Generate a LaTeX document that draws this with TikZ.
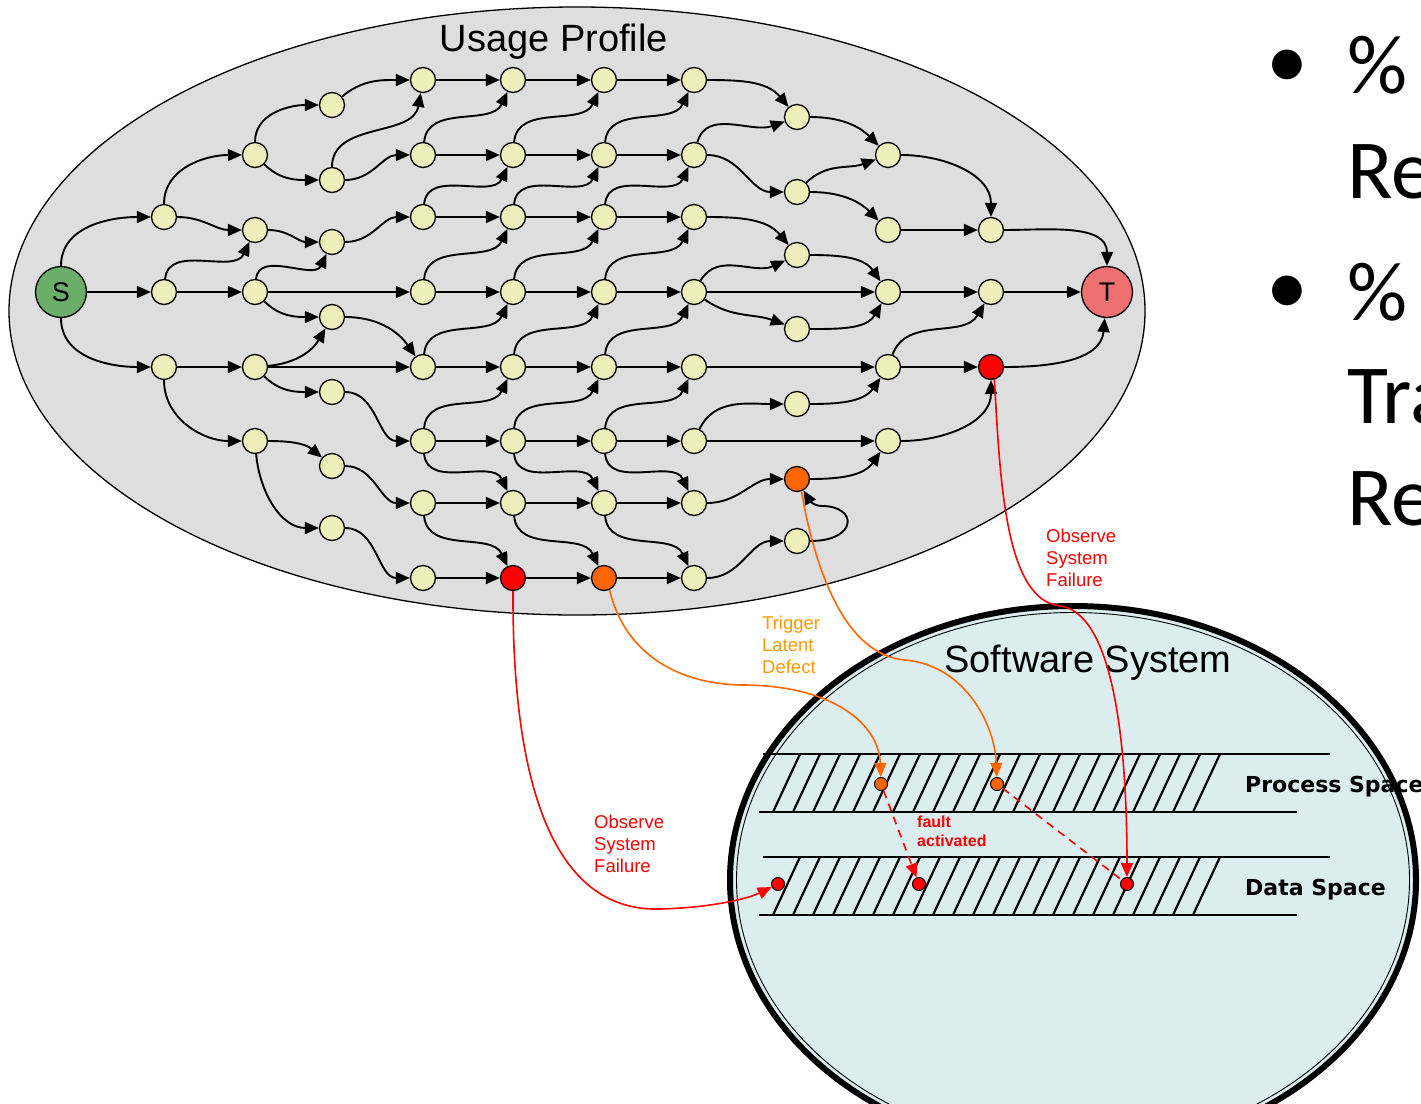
\documentclass[tikz,border=0pt]{standalone}
\usepackage{fontspec}
\setmainfont{Liberation Sans}
\newfontfamily\slidefont{Carlito}
\newfontfamily\heavyfont{DejaVu Sans}
\usetikzlibrary{arrows.meta}

\definecolor{profilegray}{RGB}{222,222,222}
\definecolor{stateyellow}{RGB}{238,238,187}
\definecolor{startgreen}{RGB}{106,174,106}
\definecolor{endsalmon}{RGB}{238,112,112}
\definecolor{failred}{RGB}{255,0,0}
\definecolor{defectorange}{RGB}{255,102,0}
\definecolor{labelorange}{RGB}{255,153,0}
\definecolor{systemcyan}{RGB}{219,237,239}

\tikzset{
  st/.style={circle, draw, line width=1.3pt, fill=stateyellow, minimum size=25pt, inner sep=0pt},
  term/.style={circle, draw, line width=1.3pt, minimum size=51pt, inner sep=0pt, font=\fontsize{27}{30}\selectfont},
  spot/.style={circle, draw, line width=1pt, minimum size=13pt, inner sep=0pt},
  tr/.style={line width=1.9pt, -{Triangle[length=14pt,width=12pt]}},
  rise/.style={out=85, in=-115},
  fall/.style={out=-85, in=115},
  wave/.style={out=0, in=180},
  link/.style={line width=1.6pt, -{Triangle[length=14pt,width=12pt]}},
  band/.style={line width=2.6pt},
  hatch/.style={line width=2.2pt},
  lbl/.style={anchor=base west, inner sep=0pt, align=left, font=\fontsize{18.5}{22}\selectfont},
  slide/.style={anchor=base west, inner sep=0pt, font=\slidefont\fontsize{84}{100}\selectfont},
  space/.style={anchor=base west, inner sep=0pt, font=\heavyfont\bfseries\fontsize{22}{24}\selectfont},
}

\begin{document}
\begin{tikzpicture}[x=1pt,y=-1pt]
\useasboundingbox (0,0) rectangle (1421,1103);
\fill[white] (0,0) rectangle (1421,1103);

% ---------- usage profile container ----------
\draw[fill=profilegray, line width=1.3pt] (577,311) ellipse [x radius=568, y radius=304];
\node[anchor=base, inner sep=0pt, font=\fontsize{38}{40}\selectfont] (upt) at (554,51) {Usage Profile};

% ---------- software system container ----------
\draw[fill=systemcyan, line width=6pt] (1073,880) ellipse [x radius=343, y radius=274];
\draw[line width=0.9pt] (1073,880) ellipse [x radius=336.5, y radius=267.5];
\node[anchor=base, inner sep=0pt, font=\fontsize{38}{40}\selectfont] (sst) at (1088,672) {Software System};

% hatched process and data bands
\foreach \t/\b in {754/812, 857/915}{
  \draw[band] (763,\t) -- (1330,\t);
  \draw[band] (759,\b) -- (1297,\b);
  \foreach \k in {0,...,21}
    \draw[hatch] ({773+20*\k},\b) -- ({800+20*\k},\t);
}
\node[space] (ps) at (1245,792) {Process Space};
\node[space] (ds) at (1245,895) {Data Space};

% ---------- states ----------
\node[term, fill=startgreen] (S) at (61,292) {S};
\node[term, fill=endsalmon] (T) at (1107,292) {T};
\foreach \y in {217,292,367} \node[st] (n1-\y) at (164,\y) {};
\foreach \y in {155,230,292,367,441} \node[st] (n2-\y) at (255,\y) {};
\foreach \y in {105,180,242,317,392,466,528} \node[st] (n3-\y) at (332,\y) {};
\foreach \y in {80,155,217,292,367,441,503,578} \node[st] (n4-\y) at (423,\y) {};
\foreach \y in {80,155,217,292,367,441,503} \node[st] (n5-\y) at (513,\y) {};
\node[st, fill=failred] (n5-578) at (513,578) {};
\foreach \y in {80,155,217,292,367,441,503} \node[st] (n6-\y) at (604,\y) {};
\node[st, fill=defectorange] (n6-578) at (604,578) {};
\foreach \y in {80,155,217,292,367,441,503,578} \node[st] (n7-\y) at (694,\y) {};
\foreach \y in {117,192,255,329,404,541} \node[st] (n8-\y) at (797,\y) {};
\node[st, fill=defectorange] (n8-479) at (797,479) {};
\foreach \y in {155,230,292,367,441} \node[st] (n9-\y) at (888,\y) {};
\foreach \y in {230,292} \node[st] (n10-\y) at (991,\y) {};
\node[st, fill=failred] (n10-367) at (991,367) {};

% ---------- transitions ----------
\draw[tr] (S) to[out=90,in=180] (n1-217);
\draw[tr] (S) -- (n1-292);
\draw[tr] (S) to[out=-90,in=180] (n1-367);

\draw[tr] (n1-217) to[out=90,in=180] (n2-155);
\draw[tr] (n1-217) to[wave] (n2-230);
\draw[tr] (n1-292) to[rise] (n2-230);
\draw[tr] (n1-292) -- (n2-292);
\draw[tr] (n1-367) -- (n2-367);
\draw[tr] (n1-367) to[out=-90,in=180] (n2-441);

\draw[tr] (n2-155) to[out=90,in=180] (n3-105);
\draw[tr] (n2-155) to[out=-45,in=180] (n3-180);
\draw[tr] (n2-230) to[wave] (n3-242);
\draw[tr] (n2-292) to[rise] (n3-242);
\draw[tr] (n2-292) -- (n4-292);
\draw[tr] (n2-292) to[out=-45,in=180] (n3-317);
\draw[tr] (n2-367) to[out=5,in=-120] (n3-317);
\draw[tr] (n2-367) -- (n4-367);
\draw[tr] (n2-367) to[out=-45,in=180] (n3-392);
\draw[tr] (n2-441) to[out=0,in=140] (n3-466);
\draw[tr] (n2-441) to[out=-85,in=180] (n3-528);

\draw[tr] (n3-105) to[out=40,in=180] (n4-80);
\draw[tr] (n3-180) to[out=90,in=-100] (n4-80);
\draw[tr] (n3-180) to[wave] (n4-155);
\draw[tr] (n3-242) to[wave] (n4-217);
\draw[tr] (n3-317) to[out=0,in=125] (n4-367);
\draw[tr] (n3-392) to[wave] (n4-441);
\draw[tr] (n3-466) to[wave] (n4-503);
\draw[tr] (n3-528) to[wave] (n4-578);

\foreach \a/\b in {4/5,5/6,6/7}{
  \foreach \y in {80,155,217,292,367,441,503,578}
    \draw[tr] (n\a-\y) -- (n\b-\y);
  \foreach \y/\z in {155/80,217/155,292/217,367/292,441/367}
    \draw[tr] (n\a-\y) to[rise] (n\b-\z);
  \foreach \y/\z in {441/503,503/578}
    \draw[tr] (n\a-\y) to[fall] (n\b-\z);
}

\draw[tr] (n7-80) to[out=0,in=130] (n8-117);
\draw[tr] (n7-155) to[out=75,in=-160] (n8-117);
\draw[tr] (n7-155) to[wave] (n8-192);
\draw[tr] (n7-217) to[out=0,in=130] (n8-255);
\draw[tr] (n7-292) to[out=60,in=-155] (n8-255);
\draw[tr] (n7-292) -- (n9-292);
\draw[tr] (n7-292) to[out=-35,in=160] (n8-329);
\draw[tr] (n7-367) -- (n9-367);
\draw[tr] (n7-441) to[out=65,in=180] (n8-404);
\draw[tr] (n7-441) -- (n9-441);
\draw[tr] (n7-503) to[wave] (n8-479);
\draw[tr] (n7-578) to[wave] (n8-541);
\draw[tr] (n8-541.east) .. controls (858,541) and (858,506) .. (822,506) to[out=180,in=-60] (n8-479);

\draw[tr] (n8-117) to[out=0,in=135] (n9-155);
\draw[tr] (n8-192) to[out=45,in=-160] (n9-155);
\draw[tr] (n8-192) to[out=0,in=135] (n9-230);
\draw[tr] (n8-255) to[out=0,in=125] (n9-292);
\draw[tr] (n8-329) to[out=0,in=-120] (n9-292);
\draw[tr] (n8-404) to[out=0,in=-125] (n9-367);
\draw[tr] (n8-479) to[out=0,in=-125] (n9-441);

\draw[tr] (n9-155) to[out=0,in=90] (n10-230);
\draw[tr] (n9-230) -- (n10-230);
\draw[tr] (n9-292) -- (n10-292);
\draw[tr] (n9-367) to[out=70,in=-120] (n10-292);
\draw[tr] (n9-367) -- (n10-367);
\draw[tr] (n9-441) to[out=0,in=-90] (n10-367);

\draw[tr] (n10-230) to[out=0,in=90] (T);
\draw[tr] (n10-292) -- (T);
\draw[tr] (n10-367) to[out=0,in=-95] (T);

% ---------- fault spots in the software system ----------
\node[spot, fill=defectorange] (dp1) at (881,784) {};
\node[spot, fill=defectorange] (dp2) at (997,784) {};
\node[spot, fill=failred] (dd1) at (778,884) {};
\node[spot, fill=failred] (dd2) at (919,884) {};
\node[spot, fill=failred] (dd3) at (1127,884) {};

% ---------- labels (placed by the baseline of their last line) ----------
\node[lbl, text=labelorange] (trig) at (762,673) {Trigger\\Latent\\Defect};
\node[lbl, text=failred] (obs1) at (594,872) {Observe\\System\\Failure};
\node[lbl, text=failred] (obs2) at (1046,586) {Observe\\System\\Failure};
\node[lbl, text=failred, font=\bfseries\fontsize{16}{19}\selectfont] (fact) at (917,846) {fault\\activated};

% ---------- links between usage and system ----------
\draw[link, failred] (n5-578.south) .. controls (512,800) and (560,912) .. (660,909) .. controls (705,908) and (745,900) .. (dd1);
\draw[link, defectorange] (n6-578.-65) .. controls (625,655) and (680,685) .. (745,685) .. controls (835,686) and (879,725) .. (dp1);
\draw[link, defectorange] (n8-479.-70) .. controls (815,570) and (845,655) .. (905,660) .. controls (965,665) and (995,725) .. (dp2);
\draw[link, failred] (n10-367.-75) .. controls (1000,480) and (1005,600) .. (1060,606) .. controls (1108,612) and (1127,720) .. (dd3);
\draw[link, failred, dash pattern=on 8pt off 6pt] (dp1) -- (dd2);
\draw[line width=1.6pt, failred, dash pattern=on 8pt off 6pt] (dp2) -- (dd3);

% ---------- bullet text ----------
\node[slide, anchor=base] (b1) at (1287,88) {•};
\node[slide] (p1) at (1347,93) {\%};
\node[slide] (r1) at (1347,198) {Re};
\node[slide, anchor=base] (b2) at (1287,314) {•};
\node[slide] (p2) at (1347,320) {\%};
\node[slide] (r2) at (1347,423) {Tra};
\node[slide] (r3) at (1347,525) {Re};
\end{tikzpicture}
\end{document}
